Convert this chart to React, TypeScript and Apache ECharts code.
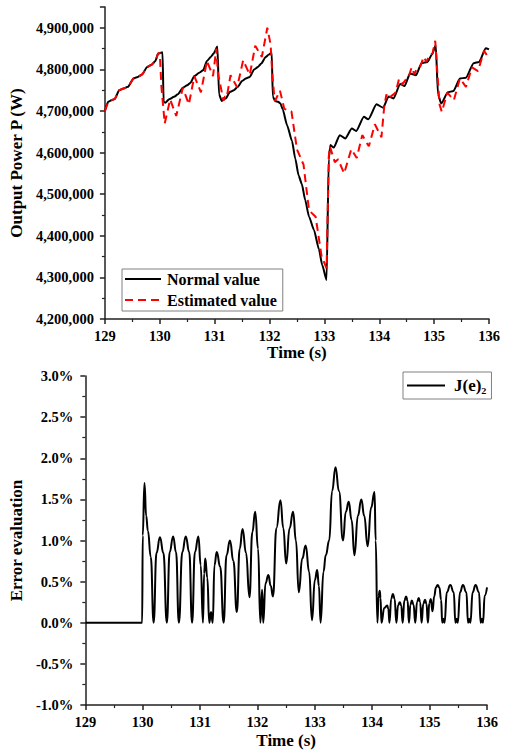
import React, { useEffect, useRef } from 'react';
import * as echarts from 'echarts';

// Top chart: output power (W) over time (s)
const normalValue: [number, number][] = [
  [129.0, 4700000], [129.06, 4722000], [129.12, 4726000], [129.18, 4729000], [129.26, 4750000],
  [129.34, 4754000], [129.42, 4758000], [129.52, 4778000], [129.6, 4782000], [129.68, 4788000],
  [129.77, 4806000], [129.85, 4811000], [129.92, 4820000], [129.97, 4838000], [130.05, 4841000],
  [130.07, 4722000], [130.1, 4720000], [130.17, 4728000], [130.26, 4734000], [130.33, 4740000],
  [130.42, 4756000], [130.5, 4762000], [130.56, 4768000], [130.63, 4784000], [130.72, 4792000],
  [130.79, 4798000], [130.86, 4820000], [130.93, 4830000], [130.98, 4838000], [131.05, 4855000],
  [131.08, 4740000], [131.13, 4724000], [131.2, 4730000], [131.28, 4746000], [131.35, 4750000],
  [131.42, 4758000], [131.5, 4772000], [131.57, 4778000], [131.64, 4782000], [131.72, 4800000],
  [131.79, 4806000], [131.85, 4814000], [131.93, 4830000], [131.99, 4836000], [132.04, 4840000],
  [132.06, 4735000], [132.1, 4724000], [132.16, 4722000], [132.2, 4718000], [132.24, 4704000],
  [132.32, 4666000], [132.41, 4628000], [132.47, 4585000], [132.53, 4545000], [132.59, 4524000],
  [132.65, 4486000], [132.72, 4446000], [132.81, 4414000], [132.9, 4368000], [132.96, 4330000],
  [133.04, 4294000], [133.08, 4585000], [133.11, 4618000], [133.17, 4612000], [133.28, 4642000],
  [133.38, 4634000], [133.5, 4658000], [133.58, 4652000], [133.72, 4686000], [133.8, 4680000],
  [133.95, 4716000], [134.07, 4708000], [134.17, 4735000], [134.26, 4730000], [134.38, 4765000],
  [134.46, 4760000], [134.56, 4790000], [134.67, 4786000], [134.77, 4815000], [134.88, 4818000],
  [134.96, 4836000], [135.03, 4858000], [135.07, 4740000], [135.13, 4718000], [135.25, 4745000],
  [135.35, 4748000], [135.47, 4778000], [135.58, 4780000], [135.72, 4815000], [135.82, 4818000],
  [135.94, 4851000], [136.0, 4848000],
];

const estimatedValue: [number, number][] = [
  [129.0, 4700000], [129.06, 4722000], [129.12, 4726000], [129.18, 4729000], [129.26, 4750000],
  [129.34, 4754000], [129.42, 4758000], [129.52, 4778000], [129.6, 4782000], [129.68, 4788000],
  [129.77, 4806000], [129.85, 4811000], [129.92, 4820000], [129.97, 4838000], [130.0, 4840000],
  [130.03, 4758000], [130.09, 4670000], [130.19, 4728000], [130.3, 4688000], [130.42, 4756000],
  [130.53, 4716000], [130.63, 4784000], [130.75, 4745000], [130.86, 4820000], [130.97, 4784000],
  [131.03, 4850000], [131.06, 4790000], [131.09, 4772000], [131.16, 4725000], [131.19, 4735000],
  [131.22, 4733000], [131.29, 4786000], [131.41, 4757000], [131.52, 4822000], [131.64, 4787000],
  [131.74, 4857000], [131.86, 4830000], [131.96, 4900000], [132.02, 4860000], [132.05, 4790000],
  [132.08, 4745000], [132.1, 4724000], [132.19, 4749000], [132.27, 4705000], [132.4, 4699000],
  [132.5, 4608000], [132.62, 4571000], [132.72, 4461000], [132.84, 4446000], [132.95, 4350000],
  [133.04, 4322000], [133.08, 4590000], [133.1, 4615000], [133.19, 4577000], [133.25, 4584000],
  [133.36, 4550000], [133.49, 4608000], [133.59, 4587000], [133.69, 4642000], [133.81, 4615000],
  [133.92, 4668000], [134.04, 4637000], [134.09, 4710000], [134.13, 4740000], [134.16, 4730000],
  [134.26, 4740000], [134.3, 4745000], [134.36, 4777000], [134.42, 4764000], [134.48, 4775000],
  [134.53, 4780000], [134.59, 4805000], [134.64, 4788000], [134.69, 4803000], [134.75, 4808000],
  [134.81, 4830000], [134.86, 4818000], [134.92, 4836000], [134.97, 4838000], [135.02, 4869000],
  [135.06, 4790000], [135.1, 4715000], [135.14, 4698000], [135.24, 4744000], [135.36, 4726000],
  [135.47, 4778000], [135.58, 4758000], [135.69, 4805000], [135.8, 4796000], [135.91, 4845000],
  [135.99, 4828000], [136.0, 4832000],
];

// Bottom chart: error evaluation (%) over time (s)
const errorValue: [number, number][] = [
  [129.0, 0], [129.99, 0], [130.0, 1.06], [130.03, 1.7], [130.06, 1.3], [130.09, 1.12], [130.14, 0.8],
  [130.19, 0], [130.24, 0.85], [130.3, 1.04], [130.36, 0.85], [130.42, 0], [130.47, 0.86],
  [130.53, 1.05], [130.58, 0.86], [130.63, 0], [130.69, 0.86], [130.75, 1.05], [130.81, 0.86],
  [130.86, 0], [130.91, 0.86], [130.97, 1.05], [131.01, 0.7], [131.05, 0], [131.07, 0.6],
  [131.09, 0.78], [131.125, 0.55], [131.16, 0], [131.19, 0.13], [131.22, 0], [131.25, 0.7],
  [131.29, 0.86], [131.35, 0.68], [131.41, 0], [131.46, 0.82], [131.52, 1.0], [131.58, 0.75],
  [131.64, 0.13], [131.69, 0.9], [131.74, 1.14], [131.8, 0.85], [131.86, 0.31], [131.91, 1.1],
  [131.96, 1.35], [132.01, 0.9], [132.05, 0], [132.08, 0.4], [132.1, 0], [132.14, 0.48],
  [132.19, 0.58], [132.23, 0.45], [132.27, 0.32], [132.33, 1.15], [132.4, 1.49], [132.45, 1.15],
  [132.5, 0.72], [132.56, 1.15], [132.62, 1.35], [132.67, 1.0], [132.72, 0.37], [132.78, 0.78],
  [132.84, 0.94], [132.9, 0.62], [132.95, 0.03], [133.0, 0.52], [133.04, 0.64], [133.07, 0.45],
  [133.1, 0], [133.15, 0.62], [133.19, 0.82], [133.25, 1.0], [133.3, 1.6], [133.36, 1.89],
  [133.42, 1.6], [133.49, 1.0], [133.54, 1.35], [133.59, 1.47], [133.64, 1.25], [133.69, 0.82],
  [133.75, 1.3], [133.81, 1.5], [133.86, 1.3], [133.92, 0.93], [133.98, 1.4], [134.04, 1.59],
  [134.06, 1.0], [134.09, 0], [134.11, 0.32], [134.13, 0.39], [134.145, 0.3], [134.16, 0],
  [134.21, 0.18], [134.26, 0.21], [134.28, 0.17], [134.3, 0], [134.33, 0.29], [134.36, 0.35],
  [134.39, 0.29], [134.42, 0], [134.45, 0.21], [134.48, 0.25], [134.505, 0.21], [134.53, 0],
  [134.56, 0.27], [134.59, 0.32], [134.615, 0.27], [134.64, 0], [134.665, 0.22], [134.69, 0.27],
  [134.72, 0.22], [134.75, 0], [134.78, 0.25], [134.81, 0.3], [134.835, 0.25], [134.86, 0],
  [134.89, 0.23], [134.92, 0.28], [134.945, 0.23], [134.97, 0], [134.995, 0.24], [135.02, 0.29],
  [135.05, 0.14], [135.08, 0.32], [135.11, 0.43], [135.14, 0.46], [135.17, 0.43], [135.2, 0.28],
  [135.22, 0], [135.24, 0.05], [135.26, 0], [135.3, 0.37], [135.36, 0.46], [135.42, 0.37],
  [135.45, 0], [135.47, 0.05], [135.49, 0], [135.53, 0.37], [135.58, 0.46], [135.64, 0.37],
  [135.67, 0], [135.69, 0.05], [135.71, 0], [135.75, 0.37], [135.8, 0.46], [135.86, 0.37],
  [135.89, 0], [135.91, 0.05], [135.93, 0], [135.96, 0.33], [136.0, 0.43],
];

const seriesNames = ['Normal value', 'Estimated value', 'J(e)\u2082'];
const axisNames = { time: 'Time (s)', power: 'Output Power P (W)', error: 'Error evaluation' };

const FONT = '"Liberation Serif", "Times New Roman", serif';

export default function App() {
  const ref = useRef<HTMLDivElement>(null);
  useEffect(() => {
    if (!ref.current) return;
    const chart = echarts.init(ref.current, undefined, { renderer: 'svg' });
    const labelStyle = { fontFamily: FONT, fontWeight: 'bold' as const, fontSize: 14.5, color: '#000' };
    const nameStyle = { fontFamily: FONT, fontWeight: 'bold' as const, fontSize: 17, color: '#000' };
    const axisLine = { show: true, onZero: false, lineStyle: { color: '#222', width: 1.5 } };
    const axisTick = { show: true, length: 5, lineStyle: { color: '#222', width: 1.5 } };
    const minorTick = { show: true, splitNumber: 2, length: 3, lineStyle: { color: '#222', width: 1.2 } };
    const xBase = (grid: number, gap: number) => ({
      gridIndex: grid, type: 'value', min: 129, max: 136, interval: 1,
      name: axisNames.time, nameLocation: 'middle', nameGap: gap, nameTextStyle: nameStyle,
      axisLine, axisTick, minorTick, splitLine: { show: false },
      axisLabel: { ...labelStyle, margin: 9 },
    });
    chart.setOption({
      animation: false,
      backgroundColor: '#fff',
      grid: [
        { left: 104, right: 18, top: 7, bottom: 432 },
        { left: 79, right: 20, top: 376, bottom: 46 },
      ],
      xAxis: [xBase(0, 25), xBase(1, 27)],
      yAxis: [
        {
          gridIndex: 0, type: 'value', min: 4200000, max: 4950000, interval: 100000,
          name: axisNames.power, nameLocation: 'middle', nameGap: 74, nameTextStyle: nameStyle,
          axisLine, axisTick, minorTick, splitLine: { show: false },
          axisLabel: { ...labelStyle, margin: 11, showMaxLabel: false,
            formatter: (v: number) => Math.round(v).toLocaleString('en-US') },
        },
        {
          gridIndex: 1, type: 'value', min: -1, max: 3, interval: 0.5,
          name: axisNames.error, nameLocation: 'middle', nameGap: 50, nameTextStyle: nameStyle,
          axisLine, axisTick, minorTick, splitLine: { show: false },
          axisLabel: { ...labelStyle, margin: 12, formatter: (v: number) => v.toFixed(1) + '%' },
        },
      ],
      legend: [
        {
          data: [seriesNames[0], seriesNames[1]], orient: 'vertical', left: 122, top: 269,
          padding: [2, 6, 3, 2], itemGap: 5, itemWidth: 36, itemHeight: 16,
          borderColor: '#808080', borderWidth: 1, backgroundColor: '#fff',
          itemStyle: { opacity: 0 },
          textStyle: { fontFamily: FONT, fontWeight: 'bold', fontSize: 16, color: '#000', padding: [0, 0, 0, 1] },
        },
        {
          data: [seriesNames[2]], orient: 'vertical', left: 403, top: 372,
          padding: [5, 5, 5, 3], itemWidth: 38, itemHeight: 20,
          borderColor: '#808080', borderWidth: 1, backgroundColor: '#fff',
          itemStyle: { opacity: 0 },
          textStyle: { fontFamily: FONT, fontWeight: 'bold', fontSize: 17, color: '#000', padding: [0, 0, 0, 4] },
        },
      ],
      series: [
        {
          name: seriesNames[0], type: 'line', xAxisIndex: 0, yAxisIndex: 0, data: normalValue,
          symbol: 'none', lineStyle: { color: '#000', width: 2 }, itemStyle: { color: '#000' },
          smooth: 0.2, smoothMonotone: 'x',
        },
        {
          name: seriesNames[1], type: 'line', xAxisIndex: 0, yAxisIndex: 0, data: estimatedValue,
          symbol: 'none', lineStyle: { color: '#ff0000', width: 2, type: [8, 5] }, itemStyle: { color: '#ff0000' },
        },
        {
          name: seriesNames[2], type: 'line', xAxisIndex: 1, yAxisIndex: 1, data: errorValue,
          symbol: 'none', lineStyle: { color: '#000', width: 2 }, itemStyle: { color: '#000' },
          smooth: 0.5, smoothMonotone: 'x',
        },
      ],
    });
    return () => chart.dispose();
  }, []);
  return <div ref={ref} style={{ position: 'fixed', left: 0, top: 0, width: 507, height: 751 }} />;
}
